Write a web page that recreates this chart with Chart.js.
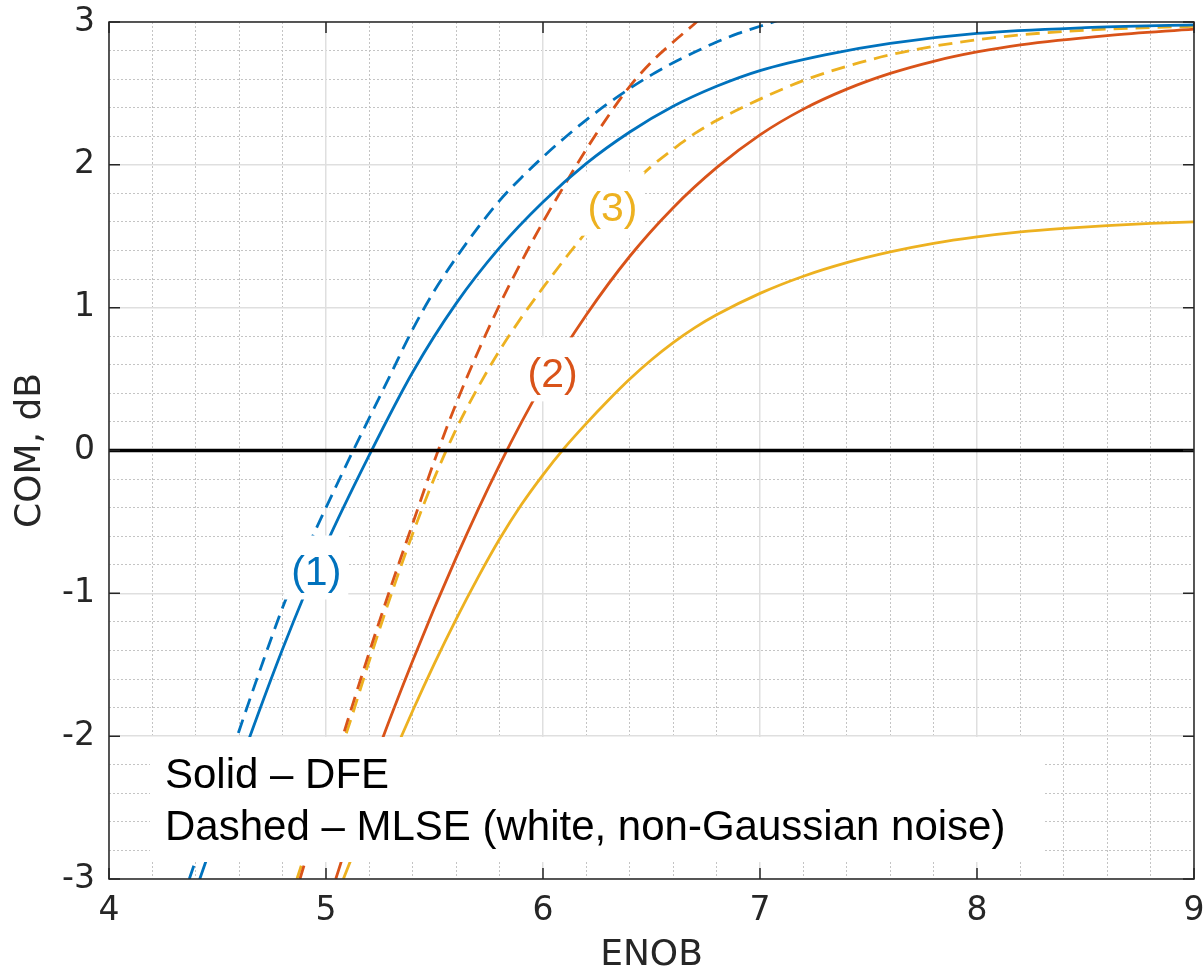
<!DOCTYPE html>
<html>
<head>
<meta charset="utf-8">
<script src="https://cdn.jsdelivr.net/npm/chart.js@4.4.1/dist/chart.umd.min.js"></script>
<style>
  html, body { margin: 0; padding: 0; background: #fff; }
  canvas { display: block; }
</style>
</head>
<body>
<canvas id="myChart" width="1204" height="974"></canvas>
<script>
// values: ENOB (x) vs COM in dB (y)
var dfe1X = [4.4, 4.6, 4.8, 5.0, 5.2, 5.4, 5.6, 5.8, 6.0, 6.2, 6.4, 6.6, 6.8, 7.0, 7.3, 7.6, 8.0, 8.5, 9.0];
var dfe1Y = [-3.08, -2.21, -1.39, -0.66, -0.03, 0.55, 1.03, 1.42, 1.74, 2.01, 2.23, 2.41, 2.55, 2.66, 2.77, 2.85, 2.92, 2.96, 2.98];

var mlse1X = [4.37, 4.5, 4.6, 4.7, 4.8, 4.9, 5.0, 5.1, 5.2, 5.3, 5.4, 5.5, 5.6, 5.7, 5.8, 5.9, 6.0, 6.1, 6.2, 6.3, 6.4, 6.5, 6.6, 6.7, 6.8, 6.9, 7.0, 7.1];
var mlse1Y = [-3.0, -2.42, -1.96, -1.52, -1.10, -0.73, -0.40, -0.08, 0.23, 0.54, 0.85, 1.12, 1.35, 1.56, 1.75, 1.91, 2.055, 2.19, 2.315, 2.43, 2.535, 2.63, 2.715, 2.79, 2.86, 2.92, 2.97, 3.02];

var dfe2X = [5.045, 5.2, 5.4, 5.6, 5.8, 6.0, 6.2, 6.4, 6.6, 6.8, 7.0, 7.2, 7.4, 7.6, 7.8, 8.0, 8.2, 8.6, 9.0];
var dfe2Y = [-3.0, -2.27, -1.47, -0.75, -0.10, 0.47, 0.95, 1.36, 1.70, 1.98, 2.21, 2.39, 2.53, 2.64, 2.725, 2.79, 2.84, 2.905, 2.95];

var mlse2X = [4.88, 5.0, 5.1, 5.2, 5.3, 5.4, 5.5, 5.6, 5.7, 5.8, 5.9, 6.0, 6.1, 6.2, 6.3, 6.4, 6.5, 6.6, 6.7, 6.75];
var mlse2Y = [-3.0, -2.39, -1.89, -1.41, -0.95, -0.51, -0.07, 0.33, 0.69, 1.02, 1.32, 1.60, 1.86, 2.11, 2.34, 2.55, 2.72, 2.86, 2.99, 3.06];

var dfe3X = [5.08, 5.2, 5.3, 5.4, 5.5, 5.6, 5.7, 5.8, 5.9, 6.0, 6.1, 6.2, 6.3, 6.4, 6.5, 6.6, 6.7, 6.8, 7.0, 7.2, 7.4, 7.6, 7.8, 8.0, 8.2, 8.4, 8.6, 8.8, 9.0];
var dfe3Y = [-3.0, -2.54, -2.17, -1.82, -1.49, -1.18, -0.89, -0.62, -0.38, -0.17, 0.02, 0.19, 0.35, 0.50, 0.635, 0.755, 0.86, 0.95, 1.10, 1.22, 1.315, 1.39, 1.45, 1.495, 1.53, 1.555, 1.575, 1.59, 1.60];

var mlse3X = [4.866, 5.0, 5.1, 5.2, 5.3, 5.4, 5.5, 5.6, 5.7, 5.8, 5.9, 6.0, 6.1, 6.2, 6.3, 6.4, 6.5, 6.6, 6.7, 6.8, 7.0, 7.2, 7.4, 7.6, 7.8, 8.0, 8.2, 8.6, 9.0];
var mlse3Y = [-3.0, -2.38, -1.95, -1.47, -1.01, -0.58, -0.19, 0.15, 0.44, 0.70, 0.93, 1.14, 1.34, 1.53, 1.70, 1.85, 1.99, 2.11, 2.22, 2.31, 2.46, 2.59, 2.69, 2.77, 2.83, 2.875, 2.91, 2.95, 2.97];

var zeroX = [4, 9];
var zeroY = [0, 0];

var curveNames = ["(1)", "(2)", "(3)"];
var noteLines = ["Solid \u2013 DFE", "Dashed \u2013 MLSE (white, non-Gaussian noise)"];

var BLUE = "#0072BD", RED = "#D95319", YELLOW = "#EDB120";
var AXIS = "#262626";
var TAG_FONT = "41px 'Liberation Sans', Arial, sans-serif";
var NOTE_FONT = "42px 'Liberation Sans', Arial, sans-serif";

function pts(xs, ys) {
    return xs.map(function (x, i) { return { x: x, y: ys[i] }; });
}

function curve(label, xs, ys, color, dashed) {
    return {
        label: label,
        data: pts(xs, ys),
        borderColor: color,
        borderWidth: 2.8,
        borderDash: dashed ? [14, 8] : [],
        pointRadius: 0,
        fill: false,
        cubicInterpolationMode: "monotone",
        order: 1
    };
}

function isWhole(v) { return Math.abs(v - Math.round(v)) < 1e-6; }

// curve tags and the note box, placed in data units through the scales
var overlay = {
    id: "overlay",
    afterDatasetsDraw: function (chart) {
        var ctx = chart.ctx, sx = chart.scales.x, sy = chart.scales.y;
        var tags = [
            { text: curveNames[0], x: 4.955, y: -0.847, color: BLUE },
            { text: curveNames[1], x: 6.044, y: 0.54, color: RED },
            { text: curveNames[2], x: 6.32, y: 1.70, color: YELLOW }
        ];
        ctx.save();
        ctx.font = TAG_FONT;
        ctx.textAlign = "center";
        ctx.textBaseline = "middle";
        tags.forEach(function (t) {
            var px = sx.getPixelForValue(t.x), py = sy.getPixelForValue(t.y);
            var w = ctx.measureText(t.text).width + 14;
            ctx.fillStyle = "#fff";
            ctx.fillRect(px - w / 2, py - 36, w, 64);
            ctx.fillStyle = t.color;
            ctx.fillText(t.text, px, py + 2);
        });

        var l = sx.getPixelForValue(4.189), r = sx.getPixelForValue(8.313);
        var tp = sy.getPixelForValue(-2.006), bt = sy.getPixelForValue(-2.881);
        ctx.fillStyle = "#fff";
        ctx.fillRect(l, tp, r - l, bt - tp);
        ctx.font = NOTE_FONT;
        ctx.fillStyle = "#000";
        ctx.textAlign = "left";
        ctx.textBaseline = "alphabetic";
        ctx.fillText(noteLines[0], sx.getPixelForValue(4.258), sy.getPixelForValue(-2.363));
        ctx.fillText(noteLines[1], sx.getPixelForValue(4.258), sy.getPixelForValue(-2.727));
        ctx.restore();
    },
    afterDraw: function (chart) {
        var ctx = chart.ctx, a = chart.chartArea, sx = chart.scales.x, sy = chart.scales.y;
        var len = 11;
        ctx.save();
        ctx.strokeStyle = AXIS;
        ctx.lineWidth = 1.5;
        ctx.strokeRect(a.left, a.top, a.right - a.left, a.bottom - a.top);
        ctx.beginPath();
        sx.ticks.forEach(function (t) {
            var px = sx.getPixelForValue(t.value);
            ctx.moveTo(px, a.bottom); ctx.lineTo(px, a.bottom - len);
            ctx.moveTo(px, a.top); ctx.lineTo(px, a.top + len);
        });
        sy.ticks.forEach(function (t) {
            var py = sy.getPixelForValue(t.value);
            ctx.moveTo(a.left, py); ctx.lineTo(a.left + len, py);
            ctx.moveTo(a.right, py); ctx.lineTo(a.right - len, py);
        });
        ctx.stroke();
        ctx.restore();
    }
};

var tickFont = { family: "'DejaVu Sans', sans-serif", size: 33 };
var titleFont = { family: "'DejaVu Sans', sans-serif", size: 36, lineHeight: 1 };

function minorGrid(c) { return isWhole(c.tick.value) ? "rgba(0,0,0,0)" : "#c4c4c4"; }

var ctx = document.getElementById("myChart").getContext("2d");
var chart = new Chart(ctx, {
    type: "line",
    data: {
        datasets: [
            curve("DFE (1)", dfe1X, dfe1Y, BLUE, false),
            curve("MLSE (1)", mlse1X, mlse1Y, BLUE, true),
            curve("DFE (2)", dfe2X, dfe2Y, RED, false),
            curve("MLSE (2)", mlse2X, mlse2Y, RED, true),
            curve("DFE (3)", dfe3X, dfe3Y, YELLOW, false),
            curve("MLSE (3)", mlse3X, mlse3Y, YELLOW, true),
            {
                label: "0 dB",
                data: pts(zeroX, zeroY),
                borderColor: "#000",
                borderWidth: 3.5,
                pointRadius: 0,
                order: 0
            }
        ]
    },
    options: {
        responsive: false,
        animation: false,
        devicePixelRatio: 1,
        layout: { padding: { left: 0, right: 10, top: 22, bottom: 0 } },
        plugins: { legend: { display: false }, tooltip: { enabled: false } },
        scales: {
            xMinor: {
                type: "linear", position: "bottom", min: 4, max: 9,
                ticks: { display: false, stepSize: 0.2 },
                border: { display: false, dash: [2, 2] },
                grid: { drawTicks: false, lineWidth: 1, color: minorGrid },
                afterFit: function (s) { s.height = 0; s.paddingLeft = 0; s.paddingRight = 0; }
            },
            yMinor: {
                type: "linear", position: "left", min: -3, max: 3,
                ticks: { display: false, stepSize: 0.2 },
                border: { display: false, dash: [2, 2] },
                grid: { drawTicks: false, lineWidth: 1, color: minorGrid },
                afterFit: function (s) { s.width = 0; s.paddingTop = 0; s.paddingBottom = 0; }
            },
            x: {
                type: "linear", position: "bottom", min: 4, max: 9,
                ticks: { stepSize: 1, color: AXIS, font: tickFont, padding: 13, maxRotation: 0 },
                border: { display: false },
                grid: { drawTicks: false, color: "#dfdfdf", lineWidth: 1.5 },
                title: { display: true, text: "ENOB", color: AXIS, font: titleFont, padding: { top: 0, bottom: 0 } },
                afterFit: function (s) { s.height = 95; s.paddingLeft = 0; s.paddingRight = 0; }
            },
            y: {
                type: "linear", position: "left", min: -3, max: 3,
                ticks: { stepSize: 1, color: AXIS, font: tickFont, padding: 14 },
                border: { display: false },
                grid: { drawTicks: false, color: "#dfdfdf", lineWidth: 1.5 },
                title: { display: true, text: "COM, dB", color: AXIS, font: titleFont, padding: { top: 13, bottom: 0 } },
                afterFit: function (s) { s.width = 109; s.paddingTop = 0; s.paddingBottom = 0; }
            }
        }
    },
    plugins: [overlay]
});
</script>
</body>
</html>
